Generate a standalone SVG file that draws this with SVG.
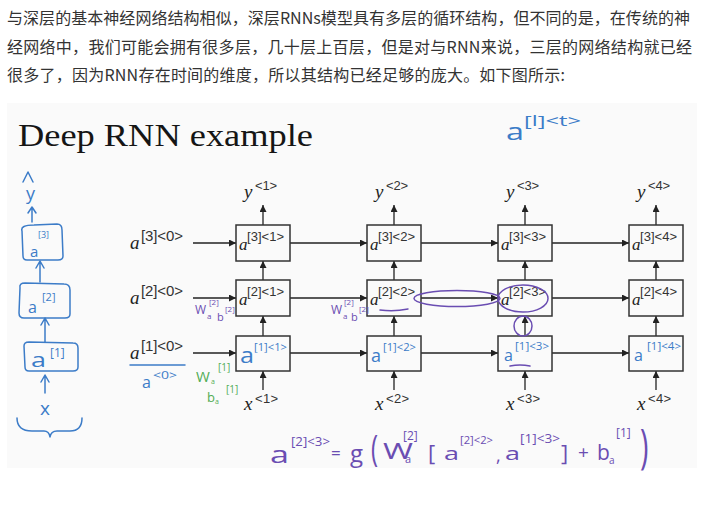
<svg xmlns="http://www.w3.org/2000/svg" width="715" height="510" viewBox="0 0 715 510">
<defs>
<marker id="ah" viewBox="0 0 10 10" refX="10" refY="5" markerWidth="8" markerHeight="7" markerUnits="userSpaceOnUse" orient="auto"><path d="M0,0 L10,5 L0,10 z" fill="#222"/></marker>
<style>
.zh{font-family:"Noto Sans CJK SC","Noto Sans",sans-serif;font-size:16px;fill:#333}
.title{font-family:"Liberation Serif",serif;font-size:31px;fill:#151515}
.box{fill:none;stroke:#333;stroke-width:1.5}
.ai{font-family:"Liberation Serif",serif;font-style:italic;fill:#222}
.sup{font-family:"Liberation Sans",sans-serif;fill:#333}
.conn line{stroke:#222;stroke-width:1.3;marker-end:url(#ah)}
.hw{font-family:"Open Sans","DejaVu Sans",sans-serif;font-weight:400}
.hb{fill:#3c7cc8}
.hp{fill:#6a4db2}
.hg{fill:#52ad55}
.sb,.sp{fill:none;stroke-width:1.5;stroke-linecap:round;stroke-linejoin:round}
.sb{stroke:#3c7cc8}
.sp{stroke:#6a4db2}
</style>
</defs>
<rect x="0" y="0" width="715" height="510" fill="#ffffff"/>
<g id="intro">
<text class="zh" x="7" y="24" textLength="683" lengthAdjust="spacing">与深层的基本神经网络结构相似，深层RNNs模型具有多层的循环结构，但不同的是，在传统的神</text>
<text class="zh" x="7" y="53" textLength="685" lengthAdjust="spacing">经网络中，我们可能会拥有很多层，几十层上百层，但是对与RNN来说，三层的网络结构就已经</text>
<text class="zh" x="7" y="81" textLength="558" lengthAdjust="spacing">很多了，因为RNN存在时间的维度，所以其结构已经足够的庞大。如下图所示:</text>
</g>
<rect id="slide" x="7" y="103" width="690" height="365" fill="#fafafa"/>
<text class="title" x="18" y="146" textLength="295" lengthAdjust="spacingAndGlyphs">Deep RNN example</text>

<g id="connectors" class="conn">
<line x1="193" y1="243" x2="236" y2="243"/>
<line x1="290" y1="243" x2="367" y2="243"/>
<line x1="421" y1="243" x2="498" y2="243"/>
<line x1="552" y1="243" x2="629" y2="243"/>
<line x1="193" y1="298" x2="236" y2="298"/>
<line x1="290" y1="298" x2="367" y2="298"/>
<line x1="421" y1="298" x2="498" y2="298"/>
<line x1="552" y1="298" x2="629" y2="298"/>
<line x1="193" y1="353" x2="236" y2="353"/>
<line x1="290" y1="353" x2="367" y2="353"/>
<line x1="421" y1="353" x2="498" y2="353"/>
<line x1="552" y1="353" x2="629" y2="353"/>
<line x1="263" y1="225" x2="263" y2="205"/>
<line x1="394" y1="225" x2="394" y2="205"/>
<line x1="525" y1="225" x2="525" y2="205"/>
<line x1="656" y1="225" x2="656" y2="205"/>
<line x1="263" y1="280" x2="263" y2="261"/>
<line x1="394" y1="280" x2="394" y2="261"/>
<line x1="525" y1="280" x2="525" y2="261"/>
<line x1="656" y1="280" x2="656" y2="261"/>
<line x1="263" y1="336" x2="263" y2="316"/>
<line x1="394" y1="336" x2="394" y2="316"/>
<line x1="525" y1="336" x2="525" y2="316"/>
<line x1="656" y1="336" x2="656" y2="316"/>
<line x1="263" y1="390" x2="263" y2="371"/>
<line x1="394" y1="390" x2="394" y2="371"/>
<line x1="525" y1="390" x2="525" y2="371"/>
<line x1="656" y1="390" x2="656" y2="371"/>
</g>

<g id="init-labels">
<text class="ai" x="130" y="249" font-size="19">a</text><text class="sup" x="141" y="241" font-size="15" textLength="42">[3]&lt;0&gt;</text>
<text class="ai" x="130" y="304" font-size="19">a</text><text class="sup" x="141" y="296" font-size="15" textLength="42">[2]&lt;0&gt;</text>
<text class="ai" x="130" y="359" font-size="19">a</text><text class="sup" x="141" y="351" font-size="15" textLength="42">[1]&lt;0&gt;</text>
</g>

<g id="y1"><text class="ai" x="244" y="198" font-size="19">y</text><text class="sup" x="255" y="190" font-size="13" textLength="22">&lt;1&gt;</text></g>
<g id="y2"><text class="ai" x="375" y="198" font-size="19">y</text><text class="sup" x="386" y="190" font-size="13" textLength="22">&lt;2&gt;</text></g>
<g id="y3"><text class="ai" x="506" y="198" font-size="19">y</text><text class="sup" x="517" y="190" font-size="13" textLength="22">&lt;3&gt;</text></g>
<g id="y4"><text class="ai" x="637" y="198" font-size="19">y</text><text class="sup" x="648" y="190" font-size="13" textLength="22">&lt;4&gt;</text></g>

<g id="x1"><text class="ai" x="244" y="410" font-size="19">x</text><text class="sup" x="255" y="403" font-size="13" textLength="23">&lt;1&gt;</text></g>
<g id="x2"><text class="ai" x="375" y="410" font-size="19">x</text><text class="sup" x="386" y="403" font-size="13" textLength="23">&lt;2&gt;</text></g>
<g id="x3"><text class="ai" x="506" y="410" font-size="19">x</text><text class="sup" x="517" y="403" font-size="13" textLength="23">&lt;3&gt;</text></g>
<g id="x4"><text class="ai" x="637" y="410" font-size="19">x</text><text class="sup" x="648" y="403" font-size="13" textLength="23">&lt;4&gt;</text></g>

<g id="a3-1"><rect class="box" x="236" y="225" width="54" height="36"/><text class="ai" x="239" y="250" font-size="17">a</text><text class="sup" x="247" y="241" font-size="13" textLength="37">[3]&lt;1&gt;</text></g>
<g id="a3-2"><rect class="box" x="367" y="225" width="54" height="36"/><text class="ai" x="370" y="250" font-size="17">a</text><text class="sup" x="378" y="241" font-size="13" textLength="37">[3]&lt;2&gt;</text></g>
<g id="a3-3"><rect class="box" x="498" y="225" width="54" height="36"/><text class="ai" x="501" y="250" font-size="17">a</text><text class="sup" x="509" y="241" font-size="13" textLength="37">[3]&lt;3&gt;</text></g>
<g id="a3-4"><rect class="box" x="629" y="225" width="54" height="36"/><text class="ai" x="632" y="250" font-size="17">a</text><text class="sup" x="640" y="241" font-size="13" textLength="37">[3]&lt;4&gt;</text></g>

<g id="a2-1"><rect class="box" x="236" y="280" width="54" height="36"/><text class="ai" x="239" y="305" font-size="17">a</text><text class="sup" x="247" y="296" font-size="13" textLength="37">[2]&lt;1&gt;</text></g>
<g id="a2-2"><rect class="box" x="367" y="280" width="54" height="36"/><text class="ai" x="370" y="305" font-size="17">a</text><text class="sup" x="378" y="296" font-size="13" textLength="37">[2]&lt;2&gt;</text></g>
<g id="a2-3"><rect class="box" x="498" y="280" width="54" height="36"/><text class="ai" x="501" y="305" font-size="17">a</text><text class="sup" x="509" y="296" font-size="13" textLength="37">[2]&lt;3&gt;</text></g>
<g id="a2-4"><rect class="box" x="629" y="280" width="54" height="36"/><text class="ai" x="632" y="305" font-size="17">a</text><text class="sup" x="640" y="296" font-size="13" textLength="37">[2]&lt;4&gt;</text></g>

<g id="a1-1"><rect class="box" x="236" y="336" width="54" height="35"/><text class="hw hb" x="240" y="363" font-size="22" textLength="14" lengthAdjust="spacingAndGlyphs">a</text><text class="hw hb" x="254" y="351" font-size="11" textLength="33" lengthAdjust="spacingAndGlyphs">[1]&lt;1&gt;</text></g>
<g id="a1-2"><rect class="box" x="367" y="336" width="54" height="35"/><text class="hw hb" x="371" y="362" font-size="18">a</text><text class="hw hb" x="383" y="351" font-size="11" textLength="33" lengthAdjust="spacingAndGlyphs">[1]&lt;2&gt;</text></g>
<g id="a1-3"><rect class="box" x="498" y="336" width="54" height="35"/><text class="hw hb" x="504" y="361" font-size="16">a</text><text class="hw hb" x="515" y="350" font-size="11" textLength="34" lengthAdjust="spacingAndGlyphs">[1]&lt;3&gt;</text></g>
<g id="a1-4"><rect class="box" x="629" y="336" width="54" height="35"/><text class="hw hb" x="634" y="361" font-size="16">a</text><text class="hw hb" x="647" y="350" font-size="11" textLength="34" lengthAdjust="spacingAndGlyphs">[1]&lt;4&gt;</text></g>

<g id="note-alt">
<text class="hw hb" x="506" y="140" font-size="24" textLength="18" lengthAdjust="spacingAndGlyphs">a</text>
<text class="hw hb" x="524" y="126" font-size="15" textLength="57" lengthAdjust="spacingAndGlyphs">[l]&lt;t&gt;</text>
</g>

<g id="note-left-stack">
<path class="sb" d="M23,182 L28,172 L33,182"/>
<text class="hw hb" x="26" y="200" font-size="18">y</text>
<path class="sb" d="M32,222 L32,208 M28,213 L32,207 L36,213"/>
<path class="sb" d="M22,231 Q20,225 34,225 L57,224 Q62,224 62,230 L63,256 Q63,260 58,260 L27,260 Q23,260 23,256 Z"/>
<text class="hw hb" x="30" y="257" font-size="15">a</text>
<text class="hw hb" x="38" y="238" font-size="9">[3]</text>
<path class="sb" d="M40,282 L40,262 M36,268 L40,261 L44,268"/>
<path class="sb" d="M20,288 Q19,283 25,283 L64,284 Q70,284 70,290 L70,314 Q70,318 65,318 L24,318 Q19,318 19,313 Z"/>
<text class="hw hb" x="28" y="313" font-size="16">a</text>
<text class="hw hb" x="42" y="301" font-size="11">[2]</text>
<path class="sb" d="M45,342 L45,319 M41,325 L45,318 L49,325"/>
<path class="sb" d="M24,346 Q24,342 29,342 L73,343 Q78,343 78,348 L78,367 Q78,371 73,371 L29,371 Q25,371 25,367 Z"/>
<text class="hw hb" x="31" y="367" font-size="20" textLength="15" lengthAdjust="spacingAndGlyphs">a</text>
<text class="hw hb" x="50" y="357" font-size="12">[1]</text>
<path class="sb" d="M45,393 L45,376 M41,382 L45,375 L49,382"/>
<text class="hw hb" x="40" y="415" font-size="19">x</text>
<path class="sb" d="M17,418 Q17,431 32,431 L44,431 Q49,431 50,437 Q51,431 57,431 L70,431 Q82,431 82,418"/>
</g>

<g id="note-a0">
<path class="sb" d="M130,365 L185,365"/>
<text class="hw hb" x="142" y="388" font-size="16">a</text>
<text class="hw hb" x="153" y="379" font-size="11" textLength="24" lengthAdjust="spacingAndGlyphs">&lt;0&gt;</text>
</g>

<g id="note-w1" class="hw hg">
<text x="196" y="382" font-size="15">W</text><text x="211" y="384" font-size="7">a</text><text x="218" y="371" font-size="10">[1]</text>
<text x="207" y="402" font-size="13">b</text><text x="215" y="404" font-size="7">a</text><text x="226" y="393" font-size="10">[1]</text>
</g>

<g id="note-w2a" class="hw hp">
<text x="195" y="314" font-size="12">W</text><text x="207" y="319" font-size="8">a</text><text x="209" y="305" font-size="8">[2]</text>
<text x="217" y="321" font-size="11">b</text><text x="225" y="312" font-size="8">[2]</text>
</g>
<g id="note-w2b" class="hw hp">
<text x="331" y="314" font-size="12">W</text><text x="343" y="319" font-size="8">a</text><text x="344" y="305" font-size="8">[2]</text>
<text x="351" y="321" font-size="11">b</text><text x="359" y="312" font-size="8">[2]</text>
</g>

<g id="note-marks">
<path class="sp" d="M380,310 Q394,312 408,309"/>
<ellipse class="sp" cx="457" cy="298.5" rx="43" ry="8"/>
<ellipse class="sp" cx="523" cy="298.5" rx="25" ry="13.5"/>
<ellipse class="sp" cx="523" cy="326" rx="9" ry="10"/>
<path class="sp" d="M510,366 Q520,364 530,366"/>
</g>

<g id="note-equation" class="hw hp">
<text x="270" y="463" font-size="24" textLength="19" lengthAdjust="spacingAndGlyphs">a</text>
<text x="291" y="446" font-size="12" textLength="39" lengthAdjust="spacingAndGlyphs">[2]&lt;3&gt;</text>
<text x="331" y="459" font-size="17">=</text>
<text x="350" y="462" font-size="24">g</text>
<text transform="translate(371,461) scale(1,1.5)" font-size="24">(</text>
<text x="383" y="459" font-size="22" textLength="30" lengthAdjust="spacingAndGlyphs">W</text>
<text x="405" y="463" font-size="11">a</text>
<text x="403" y="440" font-size="12">[2]</text>
<text x="428" y="461" font-size="22">[</text>
<text x="444" y="460" font-size="19" textLength="15" lengthAdjust="spacingAndGlyphs">a</text>
<text x="460" y="444" font-size="11" textLength="33" lengthAdjust="spacingAndGlyphs">[2]&lt;2&gt;</text>
<text x="496" y="462" font-size="18">,</text>
<text x="505" y="460" font-size="19" textLength="15" lengthAdjust="spacingAndGlyphs">a</text>
<text x="520" y="443" font-size="12" textLength="40" lengthAdjust="spacingAndGlyphs">[1]&lt;3&gt;</text>
<text x="561" y="461" font-size="22">]</text>
<text x="578" y="459" font-size="19">+</text>
<text x="597" y="460" font-size="21">b</text>
<text x="609" y="464" font-size="10">a</text>
<text x="616" y="437" font-size="12">[1]</text>
<text transform="translate(640,463) scale(1.1,1.8)" font-size="26">)</text>
</g>
</svg>
